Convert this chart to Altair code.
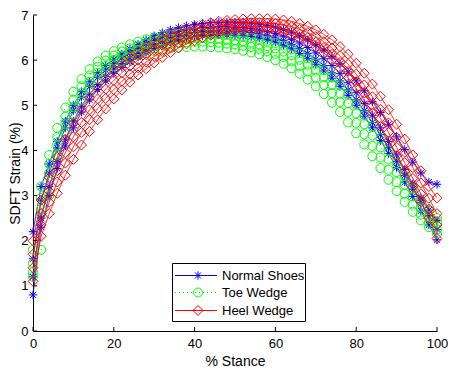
import altair as alt
import pandas as pd

# % stance sample positions (every 2 %)
stance = [0, 2, 4, 6, 8, 10, 12, 14, 16, 18, 20, 22, 24, 26, 28, 30, 32, 34, 36, 38, 40,
          42, 44, 46, 48, 50, 52, 54, 56, 58, 60, 62, 64, 66, 68, 70, 72, 74, 76, 78, 80,
          82, 84, 86, 88, 90, 92, 94, 96, 98, 100]

groups = ["Normal Shoes", "Toe Wedge", "Heel Wedge"]
colors = ["#0000ff", "#00ff00", "#ff0000"]

# Normal Shoes trials
normal_1 = [2.2, 3.2, 3.7, 4.2, 4.65, 5.0, 5.3, 5.52, 5.72, 5.88, 6.02, 6.14, 6.25, 6.35, 6.45, 6.54, 6.61, 6.67, 6.72, 6.76, 6.79,
            6.81, 6.83, 6.84, 6.84, 6.84, 6.83, 6.82, 6.8, 6.77, 6.73, 6.68, 6.62, 6.54, 6.45, 6.34, 6.22, 6.08, 5.92, 5.74, 5.54,
            5.32, 5.08, 4.84, 4.58, 4.3, 4.02, 3.74, 3.5, 3.3, 3.25]
normal_2 = [1.6, 2.9, 3.5, 4.05, 4.5, 4.88, 5.18, 5.42, 5.62, 5.78, 5.92, 6.05, 6.16, 6.26, 6.36, 6.44, 6.52, 6.58, 6.63, 6.67, 6.7,
            6.72, 6.73, 6.74, 6.74, 6.73, 6.72, 6.7, 6.67, 6.63, 6.59, 6.53, 6.46, 6.38, 6.28, 6.16, 6.03, 5.88, 5.7, 5.5, 5.28,
            5.04, 4.78, 4.5, 4.2, 3.9, 3.58, 3.26, 2.95, 2.68, 2.45]
normal_3 = [1.2, 2.5, 3.2, 3.75, 4.25, 4.65, 4.98, 5.25, 5.46, 5.64, 5.8, 5.93, 6.05, 6.15, 6.25, 6.34, 6.42, 6.49, 6.54, 6.58, 6.61,
            6.63, 6.64, 6.65, 6.65, 6.64, 6.63, 6.61, 6.58, 6.54, 6.49, 6.43, 6.35, 6.26, 6.15, 6.02, 5.88, 5.72, 5.54, 5.34, 5.12,
            4.88, 4.62, 4.35, 4.06, 3.76, 3.45, 3.14, 2.85, 2.55, 2.25]
normal_4 = [0.8, 2.3, 3.0, 3.6, 4.1, 4.5, 4.85, 5.12, 5.35, 5.54, 5.7, 5.84, 5.96, 6.07, 6.17, 6.26, 6.33, 6.4, 6.45, 6.49, 6.52,
            6.54, 6.55, 6.56, 6.56, 6.55, 6.54, 6.52, 6.49, 6.45, 6.4, 6.33, 6.25, 6.15, 6.04, 5.91, 5.76, 5.6, 5.42, 5.22, 5.0,
            4.76, 4.5, 4.22, 3.93, 3.62, 3.3, 2.98, 2.66, 2.35, 2.02]

# Toe Wedge trials
toe_1 = [1.8, 3.2, 3.9, 4.5, 4.95, 5.3, 5.58, 5.8, 5.97, 6.1, 6.2, 6.28, 6.35, 6.41, 6.46, 6.5, 6.53, 6.56, 6.58, 6.59, 6.6,
         6.6, 6.59, 6.58, 6.57, 6.55, 6.53, 6.5, 6.47, 6.43, 6.38, 6.32, 6.24, 6.15, 6.04, 5.92, 5.78, 5.62, 5.44, 5.24, 5.02,
         4.78, 4.53, 4.27, 4.0, 3.72, 3.44, 3.16, 2.9, 2.68, 2.5]
toe_2 = [1.5, 2.95, 3.7, 4.3, 4.75, 5.12, 5.42, 5.66, 5.85, 5.99, 6.1, 6.19, 6.26, 6.32, 6.37, 6.41, 6.44, 6.47, 6.49, 6.5, 6.5,
         6.5, 6.49, 6.48, 6.46, 6.44, 6.42, 6.39, 6.35, 6.31, 6.26, 6.19, 6.11, 6.01, 5.9, 5.77, 5.62, 5.45, 5.26, 5.05, 4.82,
         4.58, 4.33, 4.07, 3.8, 3.52, 3.24, 2.98, 2.74, 2.55, 2.4]
toe_3 = [1.3, 2.7, 3.5, 4.12, 4.58, 4.96, 5.27, 5.52, 5.72, 5.87, 5.99, 6.09, 6.16, 6.22, 6.27, 6.31, 6.35, 6.37, 6.39, 6.4, 6.41,
         6.41, 6.4, 6.39, 6.37, 6.35, 6.32, 6.29, 6.25, 6.2, 6.14, 6.07, 5.98, 5.87, 5.75, 5.61, 5.45, 5.27, 5.07, 4.85, 4.61,
         4.36, 4.1, 3.84, 3.57, 3.3, 3.04, 2.8, 2.58, 2.4, 2.25]
toe_4 = [1.2, 1.8, 3.0, 3.9, 4.42, 4.8, 5.12, 5.38, 5.58, 5.74, 5.87, 5.97, 6.05, 6.11, 6.16, 6.2, 6.23, 6.26, 6.28, 6.29, 6.3,
         6.3, 6.29, 6.28, 6.26, 6.24, 6.21, 6.17, 6.13, 6.07, 6.0, 5.92, 5.82, 5.7, 5.57, 5.42, 5.25, 5.06, 4.85, 4.62, 4.38,
         4.13, 3.87, 3.61, 3.35, 3.1, 2.86, 2.64, 2.45, 2.3, 2.15]

# Heel Wedge trials
heel_1 = [2.0, 2.9, 3.4, 3.85, 4.25, 4.6, 4.9, 5.17, 5.4, 5.6, 5.78, 5.93, 6.07, 6.19, 6.3, 6.4, 6.49, 6.57, 6.64, 6.7, 6.75,
          6.79, 6.83, 6.86, 6.88, 6.9, 6.91, 6.92, 6.92, 6.92, 6.91, 6.89, 6.86, 6.81, 6.75, 6.67, 6.57, 6.45, 6.3, 6.13, 5.93,
          5.71, 5.47, 5.2, 4.9, 4.58, 4.25, 3.9, 3.55, 3.2, 2.95]
heel_2 = [1.7, 2.6, 3.1, 3.55, 3.95, 4.3, 4.62, 4.9, 5.14, 5.36, 5.55, 5.72, 5.87, 6.0, 6.12, 6.23, 6.33, 6.42, 6.5, 6.57, 6.63,
          6.68, 6.72, 6.76, 6.79, 6.81, 6.82, 6.83, 6.83, 6.82, 6.81, 6.78, 6.74, 6.68, 6.61, 6.52, 6.41, 6.27, 6.1, 5.91, 5.69,
          5.45, 5.19, 4.91, 4.61, 4.29, 3.96, 3.62, 3.28, 2.94, 2.6]
heel_3 = [1.4, 2.35, 2.85, 3.3, 3.72, 4.08, 4.4, 4.68, 4.93, 5.15, 5.35, 5.53, 5.69, 5.83, 5.96, 6.08, 6.19, 6.29, 6.38, 6.46, 6.53,
          6.59, 6.64, 6.68, 6.71, 6.73, 6.74, 6.75, 6.75, 6.74, 6.72, 6.69, 6.64, 6.58, 6.5, 6.4, 6.28, 6.13, 5.95, 5.75, 5.52,
          5.27, 5.0, 4.71, 4.4, 4.07, 3.73, 3.38, 3.04, 2.7, 2.35]
heel_4 = [1.1, 2.1, 2.6, 3.05, 3.45, 3.8, 4.12, 4.42, 4.68, 4.92, 5.14, 5.34, 5.51, 5.67, 5.81, 5.94, 6.06, 6.17, 6.27, 6.36, 6.43,
          6.5, 6.55, 6.59, 6.62, 6.64, 6.65, 6.66, 6.66, 6.65, 6.63, 6.6, 6.55, 6.48, 6.4, 6.29, 6.16, 6.0, 5.82, 5.61, 5.37,
          5.11, 4.83, 4.53, 4.21, 3.88, 3.54, 3.2, 2.86, 2.5, 2.05]

x_ticks = [0, 20, 40, 60, 80, 100]
y_ticks = [0, 1, 2, 3, 4, 5, 6, 7]

trials = {
    "Normal Shoes": [normal_1, normal_2, normal_3, normal_4],
    "Toe Wedge": [toe_1, toe_2, toe_3, toe_4],
    "Heel Wedge": [heel_1, heel_2, heel_3, heel_4],
}

STAR = "M-1,0L1,0M0,-1L0,1M-0.72,-0.72L0.72,0.72M-0.72,0.72L0.72,-0.72"
shapes = {"Normal Shoes": STAR, "Toe Wedge": "circle", "Heel Wedge": "diamond"}
sizes = {"Normal Shoes": 70, "Toe Wedge": 81, "Heel Wedge": 100}
dashes = {"Normal Shoes": [1, 0], "Toe Wedge": [1, 3], "Heel Wedge": [1, 0]}

W, H = 404, 316
FONT = "Liberation Sans"

xs = alt.Scale(domain=[0, 100], nice=False, zero=False)
ys = alt.Scale(domain=[0, 7], nice=False, zero=False)
xaxis = alt.Axis(values=x_ticks, ticks=False, grid=False, labelPadding=6, titlePadding=4,
                 domainColor="black", labelColor="black", titleColor="black",
                 labelFontSize=13, titleFontSize=14, titleFontWeight="normal",
                 labelFont=FONT, titleFont=FONT, labelFlush=False)
yaxis = alt.Axis(values=y_ticks, ticks=False, grid=False, labelPadding=5,
                 titleX=-18, titleY=H / 2, titleBaseline="middle", titleAngle=270,
                 domainColor="black", labelColor="black", titleColor="black",
                 labelFontSize=13, titleFontSize=14, titleFontWeight="normal",
                 labelFont=FONT, titleFont=FONT, labelFlush=False)

def X(field="x"):
    return alt.X(f"{field}:Q", scale=xs, axis=xaxis, title="% Stance")

def Y(field="strain"):
    return alt.Y(f"{field}:Q", scale=ys, axis=yaxis, title="SDFT Strain (%)")

layers = []
for gi, g in enumerate(groups):
    rows = []
    for ti, vals in enumerate(trials[g]):
        for xv, yv in zip(stance, vals):
            rows.append({"x": xv, "strain": yv, "trial": f"{g}-{ti}"})
    df = pd.DataFrame(rows)
    base = alt.Chart(df)
    layers.append(base.mark_line(color=colors[gi], strokeWidth=0.9, strokeDash=dashes[g]).encode(
        x=X(), y=Y(), detail="trial:N"))
    layers.append(base.mark_point(color=colors[gi], shape=shapes[g], size=sizes[g],
                                  filled=False, strokeWidth=1, opacity=1).encode(
        x=X(), y=Y(), detail="trial:N"))

# inward ticks
xt = pd.DataFrame({"x": x_ticks})
yt = pd.DataFrame({"strain": y_ticks})
layers.append(alt.Chart(xt).mark_rule(color="black", strokeWidth=1).encode(
    x=X(), y=alt.value(H), y2=alt.value(H - 4)))
layers.append(alt.Chart(yt).mark_rule(color="black", strokeWidth=1).encode(
    y=Y(), x=alt.value(0), x2=alt.value(4)))

# legend box (pixel positions inside the plot area)
box = pd.DataFrame({"k": [0]})
layers.append(alt.Chart(box).mark_rect(fill="white", stroke="black", strokeWidth=1).encode(
    x=alt.value(139.5), x2=alt.value(272.5), y=alt.value(248.5), y2=alt.value(306.5)))
leg_y = [260.5, 277.5, 295.5]
for gi, g in enumerate(groups):
    ld = pd.DataFrame({"label": [g]})
    lb = alt.Chart(ld)
    layers.append(lb.mark_rule(color=colors[gi], strokeWidth=1, strokeDash=dashes[g]).encode(
        x=alt.value(142), x2=alt.value(184), y=alt.value(leg_y[gi])))
    layers.append(lb.mark_point(color=colors[gi], shape=shapes[g], size=sizes[g],
                                filled=False, strokeWidth=1, opacity=1).encode(
        x=alt.value(165), y=alt.value(leg_y[gi])))
    layers.append(lb.mark_text(align="left", baseline="middle", fontSize=13, font=FONT,
                               color="black").encode(
        x=alt.value(189), y=alt.value(leg_y[gi]), text="label:N"))

chart = alt.layer(*layers).properties(
    width=W, height=H,
    padding={"left": 25, "top": 7, "right": 11, "bottom": 39},
    autosize=alt.AutoSizeParams(type="none"),
    background="white",
).configure_view(stroke=None)

chart.save("out.html", embed_options={"renderer": "svg", "actions": False})
